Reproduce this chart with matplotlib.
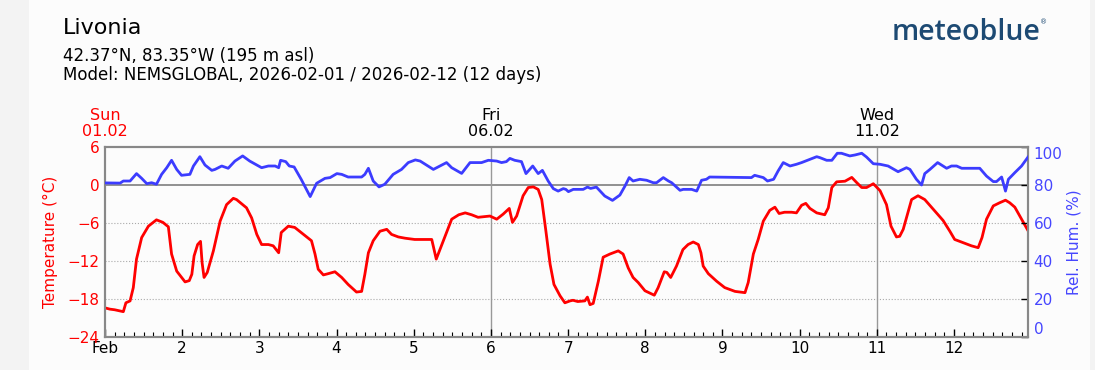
import numpy as np
import matplotlib
matplotlib.use('Agg')
import matplotlib.pyplot as plt
from matplotlib.transforms import blended_transform_factory
from matplotlib.patches import Rectangle

# Hours since 2026-02-01 00:00 and values
temp_hours = [0, 1.5, 3, 5.7, 6.5, 7.8, 8.8, 9.8, 11.4, 13.5, 16, 18, 19.7, 20.7, 22.3,
              24.9, 26.2, 27, 27.7, 28.8, 29.7, 30.2, 30.8, 31.8, 33.7, 35.8, 37.8, 39.9,
              40.9, 44, 45.6, 47.2, 48.7, 50.8, 52.3, 54, 54.8, 57, 59, 61.7, 64.2, 65.3,
              66.3, 67.9, 69.4, 71.5, 73.6, 75.6, 78.2, 79.8, 80.8, 81.9, 83.4, 85.5, 87.6,
              89.1, 91.2, 93.3, 96.3, 101.6, 103, 105.2, 107.8, 110, 112, 114, 116, 119.7,
              121.8, 123.8, 125.7, 126.7, 128, 130, 131.6, 133.2, 134.7, 135.8, 137.1,
              138.4, 139.6, 141.5, 143, 144.6, 145.5, 147, 149.2, 150, 150.8, 151.8, 153.4,
              154.9, 157, 159.6, 161.1, 162.7, 164.2, 165.8, 167.9, 170.8, 172, 173.9,
              174.7, 175.9, 177.7, 179.7, 181.3, 182.9, 184.5, 185.3, 186, 187.6, 190.2,
              192.7, 195.9, 199, 200, 201.6, 203.1, 204.7, 206.7, 208.3, 209.6, 211.3,
              213.5, 215, 216.6, 217.9, 219.2, 221.3, 223.8, 224.9, 226, 227.5, 230.1,
              232.2, 233.7, 235.3, 236.8, 238.9, 241, 243, 244.4, 246.1, 247.1, 248.2,
              250.8, 252.8, 254.9, 257.5, 260.6, 262.7, 264.2, 266.8, 269.4, 271.5, 272.7,
              274.1, 276.2, 278.2, 280, 281.3, 282.9, 285, 287]
temp_vals = [-19.4, -19.6, -19.7, -20.0, -18.6, -18.3, -16.2, -11.7, -8.3, -6.5, -5.5, -5.9,
             -6.6, -10.9, -13.6, -15.3, -15.1, -14.1, -11.2, -9.4, -8.9, -12.3, -14.6, -13.8,
             -10.4, -5.7, -3.1, -2.1, -2.3, -3.6, -5.2, -7.8, -9.4, -9.4, -9.6, -10.7, -7.5,
             -6.5, -6.7, -7.8, -8.8, -10.9, -13.3, -14.2, -14.0, -13.7, -14.6, -15.7, -16.9,
             -16.8, -14.1, -10.7, -8.8, -7.3, -7.0, -7.8, -8.2, -8.4, -8.6, -8.6, -11.7,
             -8.8, -5.4, -4.7, -4.4, -4.7, -5.1, -4.9, -5.4, -4.6, -3.7, -5.9, -4.9, -1.7,
             -0.4, -0.3, -0.7, -2.3, -7.3, -12.5, -15.7, -17.5, -18.6, -18.3, -18.2, -18.4,
             -18.3, -17.7, -18.9, -18.7, -15.2, -11.4, -10.9, -10.4, -10.9, -13.1, -14.6,
             -15.4, -16.7, -17.4, -16.2, -13.7, -13.8, -14.6, -12.8, -10.2, -9.4, -9.0,
             -9.4, -10.7, -12.8, -14.0, -15.2, -16.2, -16.8, -17.0, -15.4, -10.9, -8.6,
             -5.7, -4.0, -3.5, -4.5, -4.3, -4.3, -4.4, -3.2, -2.9, -3.7, -4.4, -4.7, -3.6,
             -0.4, 0.5, 0.6, 1.2, 0.4, -0.4, -0.4, 0.2, -0.9, -3.1, -6.5, -8.2, -8.1, -7.0,
             -2.3, -1.7, -2.3, -3.8, -5.6, -7.3, -8.6, -9.1, -9.6, -9.9, -8.3, -5.4, -3.3,
             -2.8, -2.4, -2.8, -3.5, -5.4, -7.2]

rh_hours = [0, 4.7, 5.7, 7.8, 9.8, 11.4, 13, 14.5, 16, 17.6, 19.2, 20.7, 22.3, 23.8, 26.4,
            27.5, 29.5, 31.1, 33.2, 34.2, 36.3, 38.3, 40.4, 42.8, 45, 48.7, 50.8, 52.9, 54,
            54.6, 56.2, 57.3, 58.8, 61, 63.8, 65.8, 68.4, 70, 72.1, 73.6, 75.6, 79.8, 80.8,
            81.9, 83.4, 85.2, 87, 89.6, 92.2, 94.3, 96.5, 98, 102.1, 106.2, 107.8, 110.9,
            113.5, 117.1, 119.2, 121.8, 123.3, 124.8, 125.9, 127.4, 129.5, 130.9, 133,
            134.7, 136, 137.8, 139.4, 140.9, 142.5, 143.3, 144.1, 145.6, 148.7, 150, 151,
            152.8, 155.4, 157.8, 160.1, 161.7, 163, 164.2, 166.3, 168.4, 170.5, 171.5,
            173.6, 175.2, 176.2, 178.8, 179.8, 182.4, 184, 185.5, 187, 188, 201, 202,
            204.7, 206, 207.9, 209.3, 210.9, 213, 215, 216.6, 219.2, 221.3, 222.3, 224.4,
            226, 227.7, 229, 231.6, 233.2, 235.3, 236.8, 238.9, 241, 243.5, 246.6, 249.2,
            250.3, 252.3, 253.9, 254.9, 256.5, 258.9, 261.7, 263.2, 264.8, 266.4, 272,
            274.1, 276.2, 277.2, 278.8, 280, 280.9, 282.9, 285, 287]
rh_vals = [81.1, 81.0, 82.1, 82.1, 86.0, 83.5, 80.7, 81.2, 80.4, 85.6, 89.1, 93.0, 88.2,
           85.1, 85.6, 90.0, 94.9, 90.5, 87.7, 88.2, 90.0, 88.8, 92.6, 95.3, 92.6, 89.1,
           90.0, 90.0, 89.1, 93.0, 92.3, 90.0, 89.5, 83.0, 73.9, 80.9, 83.5, 83.9, 86.0,
           85.6, 84.2, 84.2, 85.6, 88.8, 82.1, 79.0, 80.4, 85.6, 88.2, 91.8, 93.2, 92.6,
           88.2, 91.8, 89.1, 86.1, 91.8, 91.8, 93.0, 92.6, 91.8, 92.3, 94.0, 93.0, 92.3,
           86.0, 90.0, 86.0, 87.7, 82.1, 78.1, 76.8, 78.1, 77.7, 76.5, 77.7, 77.7, 78.9,
           78.2, 78.9, 74.2, 71.9, 74.7, 79.5, 83.9, 82.1, 83.0, 82.5, 81.2, 81.2, 83.9,
           82.1, 81.2, 77.2, 77.7, 77.7, 76.8, 82.5, 83.0, 84.2, 83.9, 85.1, 83.9, 82.1,
           83.0, 87.4, 91.8, 90.0, 90.9, 91.8, 93.5, 94.9, 94.4, 93.0, 93.0, 96.7, 96.7,
           95.3, 95.8, 96.7, 94.7, 91.2, 90.9, 90.0, 87.0, 89.1, 88.2, 83.0, 80.0, 86.0,
           88.2, 91.8, 88.8, 90.0, 90.0, 88.8, 88.8, 84.7, 81.8, 81.8, 84.2, 76.8, 83.0,
           86.5, 90.0, 94.7]

day_labels = ['Feb', '2', '3', '4', '5', '6', '7', '8', '9', '10', '11', '12']
top_hours = [0, 120, 240]
top_labels = ['Sun\n01.02', 'Fri\n06.02', 'Wed\n11.02']
top_colors = ['#ff0000', 'black', 'black']

temp_ticks = [-24, -18, -12, -6, 0, 6]
rh_ticks = [0, 20, 40, 60, 80, 100]

W, H = 1095, 370
fig = plt.figure(figsize=(W / 100, H / 100), dpi=100, facecolor='#fcfcfc')
# darker border strips at the sides of the image
fig.patches.append(Rectangle((0, 0), 29 / W, 1, transform=fig.transFigure,
                             facecolor='#f3f3f3', edgecolor='none', zorder=-10))
fig.patches.append(Rectangle((1090 / W, 0), 5 / W, 1, transform=fig.transFigure,
                             facecolor='#f3f3f3', edgecolor='none', zorder=-10))

ax = fig.add_axes([105 / W, 33 / H, 923 / W, 190 / H])
ax.set_facecolor('#fcfcfc')
ax2 = ax.twinx()

# Grid: dotted every 6 degrees, solid at 0, vertical every 5 days
for t in [-18, -12, -6]:
    ax.axhline(t, color='#aaaaaa', lw=0.8, ls=':', zorder=1)
ax.axhline(0, color='#888888', lw=1.3, zorder=1)
for h in top_hours[1:]:
    ax.axvline(h, color='#999999', lw=1.0, zorder=1)

ax.plot(temp_hours, temp_vals, color='#ff0000', lw=2.0, zorder=3, solid_joinstyle='round')
ax2.plot(rh_hours, rh_vals, color='#3c3cff', lw=2.0, zorder=3, solid_joinstyle='round')

ax.set_xlim(0, 287)
ax.set_ylim(-24, 6)
ax2.set_ylim(0, 100)

ax.set_xticks(np.arange(0, 288, 24))
ax.set_xticklabels(day_labels)
ax.set_xticks(np.arange(0, 288, 3), minor=True)
ax.tick_params(axis='x', which='major', direction='in', length=6, width=1, color='black',
               labelsize=11, pad=3)
ax.tick_params(axis='x', which='minor', direction='in', length=3.5, width=0.8, color='black')

ax.set_yticks(temp_ticks)
ax.set_yticklabels([str(t).replace('-', '\u2212') for t in temp_ticks])
ax.tick_params(axis='y', length=0, labelsize=11, labelcolor='#ff0000', pad=4)
ax.set_ylabel('Temperature (°C)', color='#ff0000', fontsize=11)
ax.yaxis.set_label_coords(-0.051, 0.5)

ax2.set_yticks(rh_ticks)
ax2.set_yticklabels([str(r) for r in rh_ticks])
ax2.tick_params(axis='y', direction='in', length=5, width=1, color='black',
                labelsize=11, labelcolor='#4646ff', pad=4)
ylabs = ax2.get_yticklabels()
ylabs[0].set_va('bottom')
ylabs[-1].set_va('top')
ax2.set_ylabel('Rel. Hum. (%)', color='#4646ff', fontsize=11)
ax2.yaxis.set_label_coords(1.042, 0.5)

for a in (ax, ax2):
    for s in a.spines.values():
        s.set_color('#888888')
        s.set_linewidth(1.5)

# weekday / date labels above the plot
trans = blended_transform_factory(ax.transData, ax.transAxes)
for h, lab, c in zip(top_hours, top_labels, top_colors):
    ax.text(h, 1.04, lab, transform=trans, ha='center', va='bottom', fontsize=11.5,
            color=c, linespacing=1.1)

# Header
fig.text(63 / W, 1 - 34 / H, 'Livonia', fontsize=16, va='baseline', ha='left')
fig.text(63 / W, 1 - 61 / H, '42.37°N, 83.35°W (195 m asl)', fontsize=12,
         va='baseline', ha='left')
fig.text(63 / W, 1 - 80 / H, 'Model: NEMSGLOBAL, 2026-02-01 / 2026-02-12 (12 days)',
         fontsize=12, va='baseline', ha='left')
fig.text(892 / W, 1 - 40 / H, 'meteoblue', fontsize=20.5, family='Open Sans',
         weight='semibold', color='#1d4a73', va='baseline', ha='left')
fig.text(1040 / W, 1 - 24 / H, '®', fontsize=5, color='#1d4a73', va='baseline', ha='left')

fig.savefig('out.png', dpi=100, facecolor=fig.get_facecolor())
